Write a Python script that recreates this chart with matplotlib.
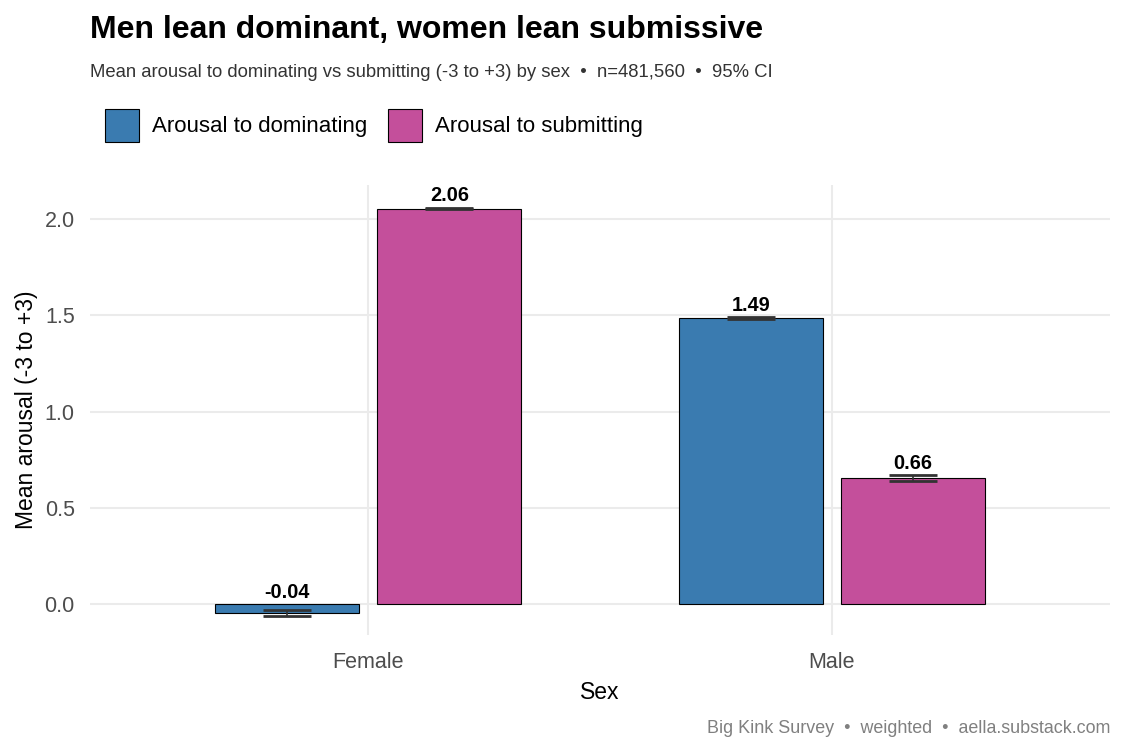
import matplotlib
matplotlib.use("Agg")
import matplotlib.pyplot as plt
from matplotlib.patches import Patch
import numpy as np

plt.rcParams['font.family'] = ['Liberation Sans', 'DejaVu Sans']

sexes = ["Female", "Male"]
series_names = ["Arousal to dominating", "Arousal to submitting"]
dominating = [-0.045, 1.485]
submitting = [2.055, 0.655]
dominating_ci = [0.015, 0.005]
submitting_ci = [0.005, 0.015]
dominating_labels = ["-0.04", "1.49"]
submitting_labels = ["2.06", "0.66"]
colors = ["#3A7BB0", "#C44F9B"]

fig = plt.figure(figsize=(11.25, 7.5), dpi=100)
ax = fig.add_axes([0.08, 0.1533, 0.9067, 0.6])

x = np.arange(1, len(sexes) + 1)
width = 0.31
offset = 0.175
series = [(dominating, dominating_ci, dominating_labels), (submitting, submitting_ci, submitting_labels)]
for i, (vals, cis, labs) in enumerate(series):
    xs = x + (-offset if i == 0 else offset)
    ax.bar(xs, vals, width=width, color=colors[i], edgecolor="black", linewidth=0.8, zorder=2)
    ax.errorbar(xs, vals, yerr=cis, fmt="none", ecolor="#333333", elinewidth=1.2,
                capsize=17, capthick=2.0, zorder=3)
    for xi, v, c, lab in zip(xs, vals, cis, labs):
        ax.annotate(lab, (xi, max(v + c, 0)), xytext=(0, 1.5), textcoords="offset points",
                    ha="center", va="bottom", fontsize=14.3, fontweight="bold", color="black", zorder=4)

ax.set_xlim(0.4, 2.6)
ax.set_ylim(-0.161, 2.177)
ax.set_yticks([0.0, 0.5, 1.0, 1.5, 2.0])
ax.set_yticklabels(["0.0", "0.5", "1.0", "1.5", "2.0"])
ax.set_xticks(x)
ax.set_xticklabels(sexes)
ax.tick_params(axis="both", length=0, labelsize=15.5, labelcolor="#4D4D4D")
ax.tick_params(axis="y", pad=11)
ax.tick_params(axis="x", pad=12)
ax.grid(True, color="#EBEBEB", linewidth=1.5, zorder=0)
ax.set_axisbelow(True)
for s in ax.spines.values():
    s.set_visible(False)
ax.set_xlabel("Sex", fontsize=16.5, labelpad=6)
ax.set_ylabel("Mean arousal (-3 to +3)", fontsize=16.5, labelpad=5)

fig.text(0.08, 0.96, "Men lean dominant, women lean submissive", fontsize=23, fontweight="bold",
         ha="left", va="center")
fig.text(0.08, 0.903, "Mean arousal to dominating vs submitting (-3 to +3) by sex  \u2022  n=481,560  \u2022  95% CI",
         fontsize=13.3, color="#333333", ha="left", va="center")
fig.text(0.9867, 0.029, "Big Kink Survey  \u2022  weighted  \u2022  aella.substack.com",
         fontsize=12.9, color="#808080", ha="right", va="center")

handles = [Patch(facecolor=colors[i], edgecolor="black", linewidth=0.8, label=series_names[i]) for i in range(2)]
fig.legend(handles=handles, loc="center left", bbox_to_anchor=(0.093, 0.833), ncol=2, frameon=False,
           fontsize=16, handlelength=1.55, handleheight=1.9, handletextpad=0.6, columnspacing=0.9,
           borderaxespad=0, borderpad=0)

fig.savefig("out.png", dpi=100)
